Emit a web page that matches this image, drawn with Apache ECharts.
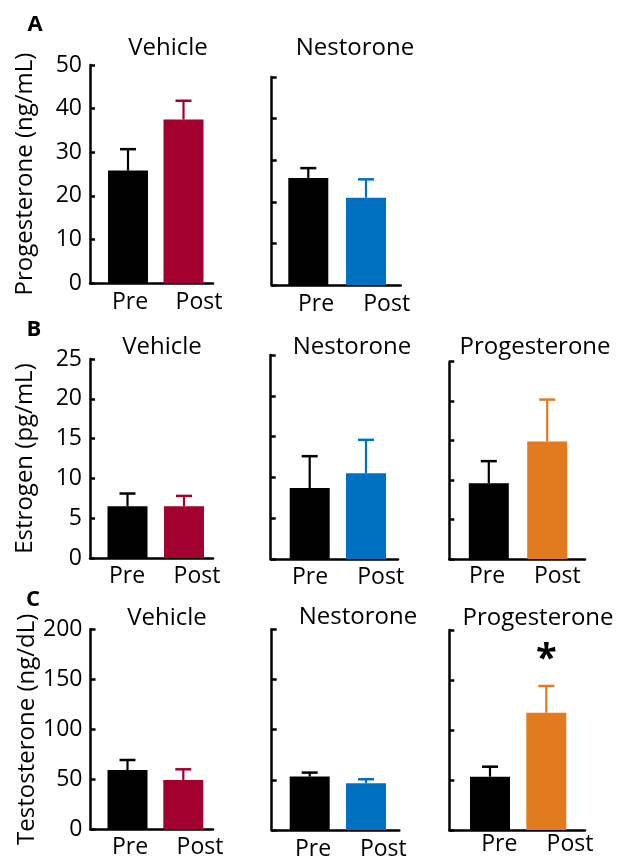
<!DOCTYPE html>
<html>
<head>
<meta charset="utf-8">
<script src="https://cdn.jsdelivr.net/npm/echarts@6/dist/echarts.min.js"></script>
<style>
  html, body { margin: 0; padding: 0; background: #fff; }
  #chart { width: 617px; height: 861px; }
</style>
</head>
<body>
<div id="chart"></div>
<script>
// Pre / Post hormone levels, mean + SEM per treatment group

const groups = ["Pre", "Post"];

// A: progesterone (ng/mL)
const progVehicle = [25.8, 37.5];
const progVehicleSem = [4.9, 4.3];
const progNestorone = [25.7, 21.0];
const progNestoroneSem = [2.4, 4.4];

// B: estrogen (pg/mL)
const estVehicle = [6.5, 6.5];
const estVehicleSem = [1.6, 1.3];
const estNestorone = [8.7, 10.5];
const estNestoroneSem = [3.9, 4.1];
const estProgesterone = [9.6, 14.9];
const estProgesteroneSem = [2.8, 5.3];

// C: testosterone (ng/dL)
const testVehicle = [59.3, 49.3];
const testVehicleSem = [10.0, 10.7];
const testNestorone = [53.2, 46.6];
const testNestoroneSem = [4.0, 4.0];
const testProgesterone = [53.3, 117.3];
const testProgesteroneSem = [10.0, 26.7];

// significance marks: [panel index, group index, value]
const sigMarks = [[7, 1, 170]];

const FONT = "Open Sans";
const RED = "#A3002F", BLUE = "#0070C0", ORANGE = "#E27B1F";

// layout of each small panel (pixels)
const panels = [
  { mean: progVehicle, sem: progVehicleSem, color: RED, max: 50, step: 10,
    x0: 90, x1: 213, y0: 65, y1: 283, bars: [128, 183.5], labs: [130, 199], labY: 303,
    ticks: true, name: "Progesterone (ng/mL)", nameX: 25 },
  { mean: progNestorone, sem: progNestoroneSem, color: BLUE, max: 50, step: 10,
    x0: 271.7, x1: 400.7, y0: 77, y1: 285, bars: [308.3, 366], labs: [316, 386.7], labY: 305 },
  { mean: estVehicle, sem: estVehicleSem, color: RED, max: 25, step: 5,
    x0: 90, x1: 213, y0: 359, y1: 558, bars: [127.5, 184], labs: [127, 197], labY: 577,
    ticks: true, name: "Estrogen (pg/mL)", nameX: 25 },
  { mean: estNestorone, sem: estNestoroneSem, color: BLUE, max: 25, step: 5,
    x0: 270.7, x1: 398, y0: 355, y1: 559, bars: [309.7, 366], labs: [310, 380.7], labY: 578 },
  { mean: estProgesterone, sem: estProgesteroneSem, color: ORANGE, max: 25, step: 5,
    x0: 449.3, x1: 585, y0: 361.7, y1: 559, bars: [488.8, 547.2], labs: [487, 557.3], labY: 577 },
  { mean: testVehicle, sem: testVehicleSem, color: RED, max: 200, step: 50,
    x0: 90.5, x1: 213, y0: 629.3, y1: 829.3, bars: [127.5, 183.3], labs: [130, 200], labY: 848,
    ticks: true, name: "Testosterone (ng/dL)", nameX: 30 },
  { mean: testNestorone, sem: testNestoroneSem, color: BLUE, max: 200, step: 50,
    x0: 271.7, x1: 399.3, y0: 629.3, y1: 830, bars: [309.7, 366], labs: [313, 383.3], labY: 850 },
  { mean: testProgesterone, sem: testProgesteroneSem, color: ORANGE, max: 200, step: 50,
    x0: 449.3, x1: 585, y0: 630, y1: 830, bars: [490, 546.3], labs: [499.3, 570], labY: 845 }
];

const titles = [
  ["Vehicle", 168, 48], ["Nestorone", 355, 48],
  ["Vehicle", 162, 347], ["Nestorone", 352, 347], ["Progesterone", 535, 347],
  ["Vehicle", 167, 618], ["Nestorone", 358, 617], ["Progesterone", 538, 618]
];
const letters = [["A", 35, 25], ["B", 34, 330], ["C", 33, 600]];

const chart = echarts.init(document.getElementById("chart"));

const pad = dx => dx >= 0 ? [0, 0, 0, 2 * dx] : [0, -2 * dx, 0, 0];

const grid = [], xAxis = [], yAxis = [], series = [];

panels.forEach((p, i) => {
  const s = p.bars[1] - p.bars[0];
  grid.push({
    left: p.x0, top: p.y0, width: p.x1 - p.x0, height: p.y1 - p.y0,
    containLabel: false, outerBoundsMode: "none"
  });
  xAxis.push({
    type: "value", gridIndex: i,
    min: -(p.bars[0] - p.x0) / s,
    max: 1 + (p.x1 - p.bars[1]) / s,
    axisLine: { show: true, onZero: false, lineStyle: { color: "#000", width: 2.5 } },
    axisTick: { show: false },
    splitLine: { show: false },
    axisLabel: {
      customValues: [0, 1],
      margin: p.labY - p.y1 - 12,
      formatter: v => "{g" + v + "|" + groups[v] + "}",
      rich: {
        g0: { fontFamily: FONT, fontSize: 23, color: "#000", padding: pad(p.labs[0] - p.bars[0]) },
        g1: { fontFamily: FONT, fontSize: 23, color: "#000", padding: pad(p.labs[1] - p.bars[1]) }
      }
    }
  });
  yAxis.push({
    type: "value", gridIndex: i, min: 0, max: p.max, interval: p.step,
    name: p.name || "",
    nameLocation: "middle",
    nameRotate: 90,
    nameGap: p.name ? p.x0 - p.nameX - 12 : 0,
    nameTextStyle: { fontFamily: FONT, fontSize: 24, color: "#000" },
    axisLine: { show: true, onZero: false, lineStyle: { color: "#000", width: 2.5 } },
    axisTick: { show: true, inside: true, length: 5, lineStyle: { color: "#000", width: 2.5 } },
    splitLine: { show: false },
    axisLabel: { show: !!p.ticks, margin: 8, fontFamily: FONT, fontSize: 23, color: "#000" }
  });
  series.push({
    type: "bar", xAxisIndex: i, yAxisIndex: i, barWidth: 40,
    data: p.mean.map((m, k) => ({ value: [k, m], itemStyle: { color: k === 0 ? "#000" : p.color } })),
    silent: true
  });
  series.push({
    type: "custom", xAxisIndex: i, yAxisIndex: i, z: 3, silent: true,
    data: p.mean.map((m, k) => [k, m, p.sem[k]]),
    renderItem: (params, api) => {
      const k = api.value(0), m = api.value(1), e = api.value(2);
      const a = api.coord([k, m]);
      const b = api.coord([k, m + e]);
      const col = k === 0 ? "#000" : p.color;
      return {
        type: "group",
        children: [
          { type: "line", shape: { x1: a[0], y1: a[1], x2: b[0], y2: b[1] },
            style: { stroke: col, lineWidth: 2.2 } },
          { type: "line", shape: { x1: b[0] - 8, y1: b[1], x2: b[0] + 8, y2: b[1] },
            style: { stroke: col, lineWidth: 2.5 } }
        ]
      };
    }
  });
});

sigMarks.forEach(([pi, k, v]) => {
  series.push({
    type: "scatter", xAxisIndex: pi, yAxisIndex: pi, symbolSize: 0, silent: true,
    itemStyle: { opacity: 1 },
    data: [[k, v]],
    label: { show: true, position: "inside", formatter: "*",
      fontFamily: FONT, fontSize: 38, fontWeight: "bold", color: "#000" }
  });
});

const graphic = titles.map(([t, x, y]) => ({
  type: "text", x, y,
  style: { text: t, fontFamily: FONT, fontSize: 24, fill: "#000",
    textAlign: "center", textVerticalAlign: "middle" }
})).concat(letters.map(([t, x, y]) => ({
  type: "text", x, y,
  style: { text: t, fontFamily: FONT, fontSize: 22, fontWeight: "bold", fill: "#000",
    textAlign: "center", textVerticalAlign: "middle" }
})));

chart.setOption({
  backgroundColor: "#fff",
  animation: false,
  grid, xAxis, yAxis, series, graphic
});
</script>
</body>
</html>
